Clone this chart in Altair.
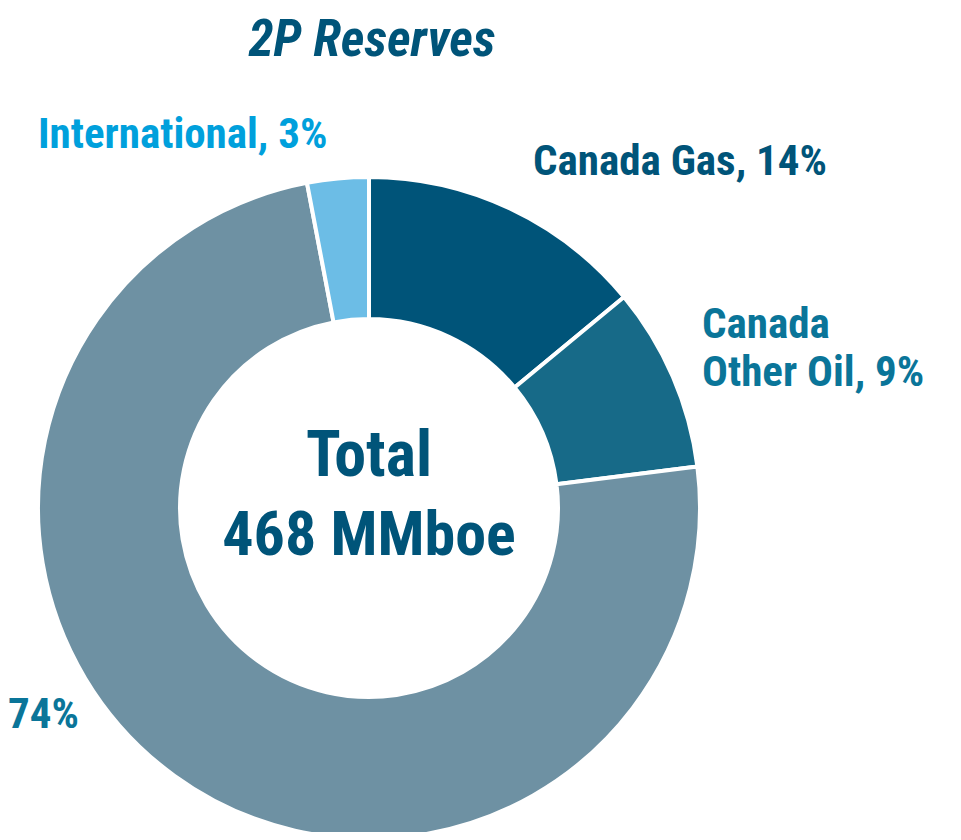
import altair as alt
import pandas as pd

# Data
segments = ["Canada Gas", "Canada Other Oil", "Canada Heavy Oil", "International"]
shares = [14, 9, 74, 3]
seg_colors = ["#005479", "#176a88", "#6e91a3", "#6cbde6"]

title_text = "2P Reserves"
center_lines = ["Total", "468 MMboe"]
label_texts = [["Canada Gas, 14%"], ["Canada", "Other Oil, 9%"], ["74%"], ["International, 3%"]]
label_colors = ["#005479", "#0a7599", "#0a7599", "#00a0dc"]

FONT = "Liberation Sans Narrow, Roboto Condensed, DejaVu Sans Condensed, sans-serif"

W, H = 945, 824
CX, CY = 361, 500

df = pd.DataFrame({"segment": segments, "share": shares, "idx": list(range(len(segments)))})

donut = alt.Chart(df).mark_arc(
    outerRadius=331, innerRadius=189, stroke="white", strokeWidth=4
).encode(
    theta=alt.Theta("share:Q", stack=True),
    order=alt.Order("idx:Q"),
    color=alt.Color("segment:N", scale=alt.Scale(domain=segments, range=seg_colors), legend=None),
    x=alt.value(CX), y=alt.value(CY),
)

# Label layout (pixel positions in plot area)
lab_x = [525, 694, 0, 30]
lab_y = [167, 330, 720, 140]

label_layers = []
for i in range(len(label_texts)):
    label_layers.append(
        alt.Chart(pd.DataFrame({"k": [0]})).mark_text(
            font=FONT, fontWeight="bold", fontSize=43, align="left",
            baseline="alphabetic", color=label_colors[i], lineHeight=48,
            text=label_texts[i] if len(label_texts[i]) > 1 else label_texts[i][0],
        ).encode(x=alt.value(lab_x[i]), y=alt.value(lab_y[i]))
    )

title = alt.Chart(pd.DataFrame({"k": [0]})).mark_text(
    font=FONT, fontWeight="bold", fontStyle="italic", fontSize=51,
    align="center", baseline="alphabetic", color="#005479", text=title_text
).encode(x=alt.value(364), y=alt.value(48))

center1 = alt.Chart(pd.DataFrame({"k": [0]})).mark_text(
    font=FONT, fontWeight="bold", fontSize=64, align="center",
    baseline="alphabetic", color="#005479", text=center_lines[0]
).encode(x=alt.value(CX), y=alt.value(468))

center2 = alt.Chart(pd.DataFrame({"k": [0]})).mark_text(
    font=FONT, fontWeight="bold", fontSize=62, align="center",
    baseline="alphabetic", color="#005479", text=center_lines[1]
).encode(x=alt.value(CX), y=alt.value(547))

chart = alt.layer(donut, title, center1, center2, *label_layers).properties(
    width=W, height=H, padding=0, autosize=alt.AutoSizeParams(type="none")
).configure_view(stroke=None)

chart.save("out.html", embed_options={"renderer": "svg", "actions": False})
